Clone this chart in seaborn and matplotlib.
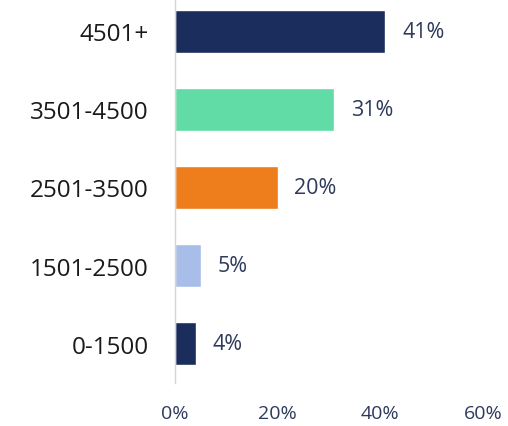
import matplotlib
matplotlib.use("Agg")
import matplotlib.pyplot as plt
import seaborn as sns
import pandas as pd

# data
bands = ["4501+", "3501-4500", "2501-3500", "1501-2500", "0-1500"]
shares = [41, 31, 20, 5, 4]
bar_colors = ["#1B2D5C", "#62DCA6", "#EE7D1C", "#A8BEE8", "#1B2D5C"]
x_ticks = [0, 20, 40, 60]

df = pd.DataFrame({"band": bands, "share": shares})

sns.set_style("white")
plt.rcParams["font.family"] = ["Open Sans", "DejaVu Sans"]

fig = plt.figure(figsize=(5.08, 4.27), dpi=100)
ax = fig.add_axes([175 / 508, 43 / 427, (483 - 175) / 508, 384 / 427])

sns.barplot(data=df, x="share", y="band", hue="band", palette=bar_colors,
            order=bands, width=0.55, legend=False, ax=ax, saturation=1)

for patch, val in zip(ax.patches, shares):
    y = patch.get_y() + patch.get_height() / 2
    ax.annotate(f"{val}%", (patch.get_width(), y), xytext=(12, 0),
                textcoords="offset points", va="center", ha="left",
                fontsize=15.5, color="#2E3A5C")

ax.set_xlim(0, 60)
ax.set_ylim(4.5, -0.41)
ax.set_xticks(x_ticks)
ax.set_xticklabels([f"{t}%" for t in x_ticks], color="#2E3A5C", fontsize=14)
ax.tick_params(axis="x", length=0, pad=15)
ax.tick_params(axis="y", length=0, pad=19, labelsize=17.5, labelcolor="#1A1A1A")
ax.set_xlabel("")
ax.set_ylabel("")

for side in ["top", "right", "bottom"]:
    ax.spines[side].set_visible(False)
ax.spines["left"].set_color("#D4D4D4")
ax.spines["left"].set_linewidth(1)

fig.savefig("out.png", dpi=100)
